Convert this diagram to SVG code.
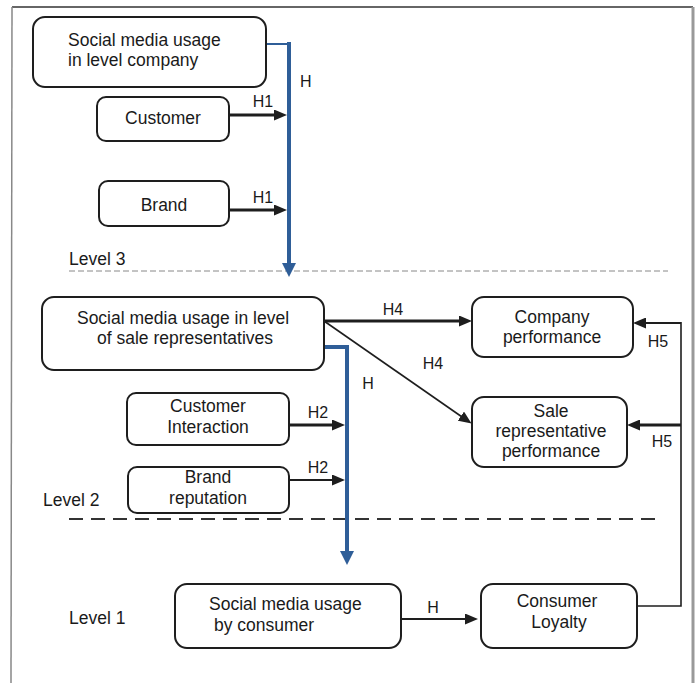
<svg xmlns="http://www.w3.org/2000/svg" width="699" height="683" viewBox="0 0 699 683">
<style>
text{font-family:"Liberation Sans",Arial,sans-serif;font-size:17.5px;fill:#1a1a1a}
.lbl{font-size:16px}
.c{text-anchor:middle}
.box{fill:#fff;stroke:#1e1e1e;stroke-width:2}
.k{stroke:#1e1e1e;fill:none}
.b{stroke:#2f5e98;fill:none}
</style>
<defs>
<marker id="ah" markerWidth="13" markerHeight="11" refX="5" refY="5.5" orient="auto" markerUnits="userSpaceOnUse"><path d="M0,0 L13,5.5 L0,11 z" fill="#1e1e1e"/></marker>
<marker id="bh" markerWidth="14" markerHeight="14" refX="6" refY="7" orient="auto" markerUnits="userSpaceOnUse"><path d="M0,0 L14,7 L0,14 z" fill="#2f5e98"/></marker>
</defs>
<rect width="699" height="683" fill="#fff"/>
<g id="frame">
<line x1="12" y1="7" x2="693" y2="7" stroke="#333" stroke-width="1.5"/>
<line x1="12" y1="7" x2="11" y2="683" stroke="#888" stroke-width="1.5"/>
<line x1="693" y1="7" x2="693" y2="683" stroke="#999" stroke-width="3"/>
<line x1="69" y1="271" x2="668" y2="271" stroke="#888" stroke-width="1" stroke-dasharray="6,3"/>
<line x1="69" y1="519" x2="660" y2="519" stroke="#333" stroke-width="2" stroke-dasharray="14,8"/>
<text x="69" y="265">Level 3</text>
<text x="43" y="506">Level 2</text>
<text x="69" y="624">Level 1</text>
</g>
<g id="connectors">
<polyline class="b" points="265,44 289,44" stroke-width="2"/>
<line class="b" x1="289" y1="42" x2="289" y2="269" stroke-width="4" marker-end="url(#bh)"/>
<polyline class="b" points="317,347 349,347" stroke-width="4"/>
<line class="b" x1="347" y1="345" x2="347" y2="557" stroke-width="4" marker-end="url(#bh)"/>
<line class="k" x1="229" y1="115" x2="279" y2="115" stroke-width="3" marker-end="url(#ah)"/>
<line class="k" x1="229" y1="210" x2="279" y2="210" stroke-width="3" marker-end="url(#ah)"/>
<line class="k" x1="289" y1="425" x2="337" y2="425" stroke-width="3" marker-end="url(#ah)"/>
<line class="k" x1="289" y1="480" x2="337" y2="480" stroke-width="2" marker-end="url(#ah)"/>
<line class="k" x1="324" y1="321" x2="464" y2="321" stroke-width="3" marker-end="url(#ah)"/>
<line class="k" x1="324" y1="321" x2="465" y2="419" stroke-width="1.6" marker-end="url(#ah)"/>
<polyline class="k" points="637,606 681,606 681,322" stroke-width="1.6"/>
<line class="k" x1="681" y1="323" x2="641" y2="323" stroke-width="2" marker-end="url(#ah)"/>
<line class="k" x1="681" y1="425" x2="635" y2="425" stroke-width="3" marker-end="url(#ah)"/>
<line class="k" x1="401" y1="619" x2="470" y2="619" stroke-width="2" marker-end="url(#ah)"/>
<text class="lbl" x="300" y="87">H</text>
<text class="lbl c" x="263" y="107">H1</text>
<text class="lbl c" x="263" y="203">H1</text>
<text class="lbl c" x="318" y="418">H2</text>
<text class="lbl c" x="318" y="473">H2</text>
<text class="lbl c" x="368" y="389">H</text>
<text class="lbl c" x="393" y="315">H4</text>
<text class="lbl c" x="433" y="369">H4</text>
<text class="lbl c" x="658" y="347">H5</text>
<text class="lbl c" x="662" y="447">H5</text>
<text class="lbl c" x="433" y="613">H</text>
</g>
<g id="n_company_level">
<rect class="box" x="33" y="17" width="233" height="70" rx="12"/>
<text x="68" y="46">Social media usage</text>
<text x="68" y="66">in level company</text>
</g>
<g id="n_customer">
<rect class="box" x="97" y="97" width="132" height="44" rx="9"/>
<text class="c" x="163" y="124">Customer</text>
</g>
<g id="n_brand">
<rect class="box" x="99" y="181" width="130" height="45" rx="9"/>
<text class="c" x="164" y="211">Brand</text>
</g>
<g id="n_sales_level">
<rect class="box" x="42" y="297" width="282" height="73" rx="12"/>
<text class="c" x="183" y="324">Social media usage in level</text>
<text class="c" x="185" y="344">of sale representatives</text>
</g>
<g id="n_customer_interaction">
<rect class="box" x="127" y="393" width="162" height="52" rx="9"/>
<text class="c" x="208" y="412">Customer</text>
<text class="c" x="208" y="433">Interaction</text>
</g>
<g id="n_brand_reputation">
<rect class="box" x="128" y="467" width="161" height="46" rx="9"/>
<text class="c" x="208" y="483">Brand</text>
<text class="c" x="208" y="504">reputation</text>
</g>
<g id="n_company_performance">
<rect class="box" x="472" y="297" width="161" height="60" rx="12"/>
<text class="c" x="552" y="323">Company</text>
<text class="c" x="552" y="343">performance</text>
</g>
<g id="n_sale_performance">
<rect class="box" x="472" y="397" width="155" height="70" rx="12"/>
<text class="c" x="551" y="417">Sale</text>
<text class="c" x="551" y="437">representative</text>
<text class="c" x="551" y="457">performance</text>
</g>
<g id="n_consumer_usage">
<rect class="box" x="175" y="584" width="226" height="64" rx="12"/>
<text x="209" y="610">Social media usage</text>
<text x="214" y="631">by consumer</text>
</g>
<g id="n_consumer_loyalty">
<rect class="box" x="481" y="584" width="156" height="64" rx="12"/>
<text class="c" x="557" y="607">Consumer</text>
<text class="c" x="559" y="628">Loyalty</text>
</g>
</svg>
